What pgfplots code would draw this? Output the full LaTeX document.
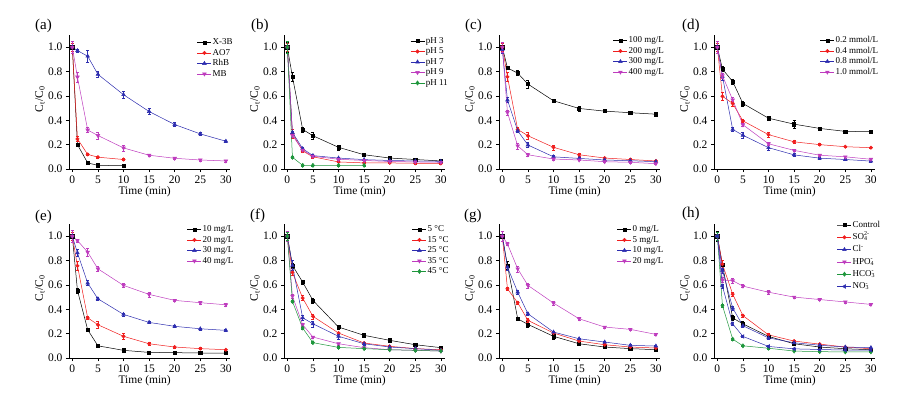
\documentclass[border=0pt]{standalone}
\usepackage{fontspec}
\setmainfont{Liberation Serif}
\usepackage{pgfplots}
\pgfplotsset{compat=1.18}
\definecolor{cRed}{RGB}{240,30,30}
\definecolor{cBlue}{RGB}{45,45,175}
\definecolor{cMag}{RGB}{190,60,190}
\definecolor{cGreen}{RGB}{30,150,60}
\newcommand\ion[2]{\rlap{\textsubscript{#1}}\textsuperscript{#2}}
\pgfplotsset{
 panel/.style={
  scale only axis, width=161pt, height=134pt,
  xmin=-0.65, xmax=30.8, ymin=0, ymax=1.1,
  xtick={0,5,...,30}, ytick={0,0.2,0.4,0.6,0.8,1.0},
  axis x line*=bottom, axis y line*=left,
  axis line style={-, line width=0.6pt},
  tick align=outside, major tick length=3pt,
  tick style={line width=0.6pt, black},
  /pgf/number format/assume math mode=true,
  ticklabel style={font=\fontsize{11.5}{12}\selectfont},
  yticklabel style={/pgf/number format/.cd, fixed, fixed zerofill, precision=1},
  xlabel={Time (min)}, ylabel={C\textsubscript{t}/C\textsubscript{0}},
  label style={font=\fontsize{11.5}{12}\selectfont},
  xlabel style={at={(axis description cs:0.47,-0.168)}, anchor=center},
  ylabel style={at={(axis description cs:-0.18,0.52)}, anchor=center},
  clip=false,
  legend cell align=left,
  legend style={draw=none, fill=none, font=\fontsize{9}{10}\selectfont,
    inner sep=0pt, row sep=0pt,
    nodes={inner sep=1pt, text height=6.5pt, text depth=2pt},
    anchor=north west},
  legend image code/.code={\draw[mark repeat=2,mark phase=2] plot coordinates {(0pt,0pt) (7pt,0pt) (14pt,0pt)};},
  every axis plot/.append style={line width=0.5pt,
    error bars/y dir=both, error bars/y explicit,
    error bars/error bar style={line width=0.45pt},
    error bars/error mark options={rotate=90, mark size=1.5pt, line width=0.45pt}},
 },
 sA/.style={black, mark=square*, mark size=1.6pt},
 sB/.style={cRed, mark=*, mark size=1.7pt},
 sC/.style={cBlue, mark=triangle*, mark size=2.1pt},
 sD/.style={cMag, mark=triangle*, mark size=2.1pt, mark options={rotate=180}},
 sE/.style={cGreen, mark=diamond*, mark size=2.1pt},
 sF/.style={cBlue, mark=triangle*, mark size=2.1pt, mark options={rotate=90}},
}
\begin{document}
\begin{tikzpicture}
\useasboundingbox (0,0) rectangle (920pt,392pt);
% ---------------- (a)
\begin{axis}[panel, at={(69pt,223pt)}, anchor=south west,
  legend style={at={(axis description cs:0.795,0.985)}}]
\addplot[sA] coordinates {(0,1.0)+-(0,0.03) (1,0.20)+-(0,0.015) (3,0.05)+-(0,0.008) (5,0.03)+-(0,0.005) (10,0.027)+-(0,0.005)};
\addplot[sB] coordinates {(0,1.0)+-(0,0.03) (1,0.247)+-(0,0.02) (3,0.12)+-(0,0.01) (5,0.097)+-(0,0.008) (10,0.078)+-(0,0.008)};
\addplot[sC] coordinates {(0,1.0)+-(0,0.02) (1,0.972)+-(0,0.015) (3,0.926)+-(0,0.05) (5,0.777)+-(0,0.025) (10,0.61)+-(0,0.03) (15,0.472)+-(0,0.025) (20,0.365)+-(0,0.015) (25,0.288)+-(0,0.01) (30,0.228)+-(0,0.008)};
\addplot[sD] coordinates {(0,1.0)+-(0,0.05) (1,0.755)+-(0,0.04) (3,0.32)+-(0,0.02) (5,0.275)+-(0,0.03) (10,0.173)+-(0,0.025) (15,0.113)+-(0,0.01) (20,0.088)+-(0,0.01) (25,0.074)+-(0,0.01) (30,0.066)+-(0,0.008)};
\legend{X-3B, AO7, RhB, MB}
\end{axis}
% ---------------- (b)
\begin{axis}[panel, at={(284pt,223pt)}, anchor=south west,
  legend style={at={(axis description cs:0.783,0.996)}}]
\addplot[sA] coordinates {(0,1.0)+-(0,0.04) (1,0.757)+-(0,0.035) (3,0.325)+-(0,0.02) (5,0.273)+-(0,0.03) (10,0.178)+-(0,0.02) (15,0.117)+-(0,0.01) (20,0.09)+-(0,0.01) (25,0.078)+-(0,0.008) (30,0.066)+-(0,0.008)};
\addplot[sB] coordinates {(0,1.0)+-(0,0.03) (1,0.29)+-(0,0.04) (3,0.148)+-(0,0.01) (5,0.10)+-(0,0.01) (10,0.058)+-(0,0.005) (15,0.05)+-(0,0.005) (20,0.05)+-(0,0.005) (25,0.047)+-(0,0.005) (30,0.045)+-(0,0.005)};
\addplot[sC] coordinates {(0,1.0)+-(0,0.02) (1,0.30)+-(0,0.01) (3,0.167)+-(0,0.01) (5,0.11)+-(0,0.01) (10,0.09)+-(0,0.008) (15,0.077)+-(0,0.006) (20,0.07)+-(0,0.006) (25,0.066)+-(0,0.005) (30,0.063)+-(0,0.005)};
\addplot[sD] coordinates {(0,1.0)+-(0,0.02) (1,0.275)+-(0,0.015) (3,0.155)+-(0,0.01) (5,0.105)+-(0,0.01) (10,0.08)+-(0,0.006) (15,0.07)+-(0,0.005) (20,0.062)+-(0,0.005) (25,0.058)+-(0,0.005) (30,0.055)+-(0,0.005)};
\addplot[sE] coordinates {(0,1.0)+-(0,0.05) (1,0.096)+-(0,0.01) (3,0.03)+-(0,0.008) (5,0.03)+-(0,0.005) (10,0.03)+-(0,0.005) (15,0.03)+-(0,0.005)};
\legend{pH 3, pH 5, pH 7, pH 9, pH 11}
\end{axis}
% ---------------- (c)
\begin{axis}[panel, at={(499pt,223pt)}, anchor=south west,
  legend style={at={(axis description cs:0.708,0.999)}}]
\addplot[sA] coordinates {(0,1.0)+-(0,0.02) (1,0.83)+-(0,0.015) (3,0.787)+-(0,0.02) (5,0.697)+-(0,0.03) (10,0.56)+-(0,0.015) (15,0.497)+-(0,0.02) (20,0.475)+-(0,0.012) (25,0.462)+-(0,0.01) (30,0.45)+-(0,0.008)};
\addplot[sB] coordinates {(0,1.0)+-(0,0.03) (1,0.757)+-(0,0.035) (3,0.325)+-(0,0.02) (5,0.273)+-(0,0.03) (10,0.178)+-(0,0.02) (15,0.117)+-(0,0.01) (20,0.09)+-(0,0.01) (25,0.078)+-(0,0.008) (30,0.066)+-(0,0.008)};
\addplot[sC] coordinates {(0,0.98)+-(0,0.03) (1,0.566)+-(0,0.02) (3,0.314)+-(0,0.015) (5,0.197)+-(0,0.02) (10,0.10)+-(0,0.01) (15,0.087)+-(0,0.008) (20,0.074)+-(0,0.006) (25,0.068)+-(0,0.006) (30,0.06)+-(0,0.005)};
\addplot[sD] coordinates {(0,1.0)+-(0,0.04) (1,0.464)+-(0,0.02) (3,0.19)+-(0,0.025) (5,0.117)+-(0,0.01) (10,0.082)+-(0,0.008) (15,0.074)+-(0,0.006) (20,0.06)+-(0,0.006) (25,0.055)+-(0,0.005) (30,0.044)+-(0,0.005)};
\legend{100 mg/L, 200 mg/L, 300 mg/L, 400 mg/L}
\end{axis}
% ---------------- (d)
\begin{axis}[panel, at={(714pt,223pt)}, anchor=south west,
  legend style={at={(axis description cs:0.658,0.999)}}]
\addplot[sA] coordinates {(0,1.0)+-(0,0.03) (1,0.82)+-(0,0.02) (3,0.718)+-(0,0.02) (5,0.538)+-(0,0.02) (10,0.417)+-(0,0.015) (15,0.368)+-(0,0.035) (20,0.333)+-(0,0.012) (25,0.309)+-(0,0.012) (30,0.306)+-(0,0.012)};
\addplot[sB] coordinates {(0,1.0)+-(0,0.03) (1,0.597)+-(0,0.03) (3,0.538)+-(0,0.02) (5,0.395)+-(0,0.015) (10,0.282)+-(0,0.02) (15,0.223)+-(0,0.012) (20,0.20)+-(0,0.008) (25,0.183)+-(0,0.006) (30,0.175)+-(0,0.006)};
\addplot[sC] coordinates {(0,1.0)+-(0,0.02) (1,0.76)+-(0,0.03) (3,0.325)+-(0,0.015) (5,0.277)+-(0,0.025) (10,0.175)+-(0,0.02) (15,0.116)+-(0,0.01) (20,0.089)+-(0,0.008) (25,0.078)+-(0,0.008) (30,0.065)+-(0,0.006)};
\addplot[sD] coordinates {(0,1.0)+-(0,0.05) (1,0.766)+-(0,0.02) (3,0.567)+-(0,0.025) (5,0.363)+-(0,0.015) (10,0.207)+-(0,0.015) (15,0.153)+-(0,0.01) (20,0.113)+-(0,0.008) (25,0.10)+-(0,0.008) (30,0.08)+-(0,0.006)};
\legend{0.2 mmol/L, 0.4 mmol/L, 0.8 mmol/L, 1.0 mmol/L}
\end{axis}
% ---------------- (e)
\begin{axis}[panel, at={(69pt,34pt)}, anchor=south west,
  legend style={at={(axis description cs:0.733,1.0)}}]
\addplot[sA] coordinates {(0,1.0)+-(0,0.03) (1,0.555)+-(0,0.02) (3,0.232)+-(0,0.012) (5,0.10)+-(0,0.01) (10,0.063)+-(0,0.012) (15,0.046)+-(0,0.006) (20,0.044)+-(0,0.005) (25,0.041)+-(0,0.005) (30,0.041)+-(0,0.005)};
\addplot[sB] coordinates {(0,1.0)+-(0,0.03) (1,0.757)+-(0,0.035) (3,0.33)+-(0,0.015) (5,0.273)+-(0,0.03) (10,0.178)+-(0,0.025) (15,0.117)+-(0,0.01) (20,0.09)+-(0,0.008) (25,0.077)+-(0,0.008) (30,0.068)+-(0,0.006)};
\addplot[sC] coordinates {(0,1.0)+-(0,0.02) (1,0.863)+-(0,0.03) (3,0.615)+-(0,0.02) (5,0.486)+-(0,0.015) (10,0.358)+-(0,0.012) (15,0.292)+-(0,0.01) (20,0.26)+-(0,0.008) (25,0.24)+-(0,0.008) (30,0.227)+-(0,0.008)};
\addplot[sD] coordinates {(0,1.0)+-(0,0.05) (1,0.964)+-(0,0.015) (3,0.869)+-(0,0.03) (5,0.732)+-(0,0.02) (10,0.596)+-(0,0.015) (15,0.522)+-(0,0.02) (20,0.473)+-(0,0.01) (25,0.454)+-(0,0.01) (30,0.437)+-(0,0.01)};
\legend{10 mg/L, 20 mg/L, 30 mg/L, 40 mg/L}
\end{axis}
% ---------------- (f)
\begin{axis}[panel, at={(284pt,34pt)}, anchor=south west,
  legend style={at={(axis description cs:0.795,1.0)}}]
\addplot[sA] coordinates {(0,1.0)+-(0,0.02) (1,0.76)+-(0,0.02) (3,0.623)+-(0,0.015) (5,0.473)+-(0,0.02) (10,0.254)+-(0,0.015) (15,0.186)+-(0,0.012) (20,0.145)+-(0,0.008) (25,0.109)+-(0,0.008) (30,0.085)+-(0,0.008)};
\addplot[sB] coordinates {(0,1.0)+-(0,0.02) (1,0.702)+-(0,0.02) (3,0.492)+-(0,0.02) (5,0.342)+-(0,0.02) (10,0.205)+-(0,0.01) (15,0.123)+-(0,0.008) (20,0.096)+-(0,0.006) (25,0.077)+-(0,0.006) (30,0.068)+-(0,0.005)};
\addplot[sC] coordinates {(0,1.0)+-(0,0.03) (1,0.76)+-(0,0.04) (3,0.33)+-(0,0.02) (5,0.281)+-(0,0.025) (10,0.178)+-(0,0.02) (15,0.117)+-(0,0.01) (20,0.09)+-(0,0.008) (25,0.077)+-(0,0.008) (30,0.063)+-(0,0.006)};
\addplot[sD] coordinates {(0,1.0)+-(0,0.04) (1,0.508)+-(0,0.015) (3,0.273)+-(0,0.015) (5,0.172)+-(0,0.01) (10,0.117)+-(0,0.008) (15,0.085)+-(0,0.006) (20,0.068)+-(0,0.006) (25,0.063)+-(0,0.005) (30,0.057)+-(0,0.005)};
\addplot[sE] coordinates {(0,1.0)+-(0,0.03) (1,0.464)+-(0,0.01) (3,0.246)+-(0,0.01) (5,0.126)+-(0,0.008) (10,0.087)+-(0,0.006) (15,0.077)+-(0,0.005) (20,0.068)+-(0,0.005) (25,0.063)+-(0,0.005) (30,0.057)+-(0,0.005)};
\legend{5 °C, 15 °C, 25 °C, 35 °C, 45 °C}
\end{axis}
% ---------------- (g)
\begin{axis}[panel, at={(499pt,34pt)}, anchor=south west,
  legend style={at={(axis description cs:0.733,1.0)}}]
\addplot[sA] coordinates {(0,1.0)+-(0,0.02) (1,0.76)+-(0,0.035) (3,0.322)+-(0,0.015) (5,0.276)+-(0,0.025) (10,0.178)+-(0,0.02) (15,0.117)+-(0,0.01) (20,0.09)+-(0,0.008) (25,0.077)+-(0,0.008) (30,0.068)+-(0,0.006)};
\addplot[sB] coordinates {(0,1.0)+-(0,0.02) (1,0.568)+-(0,0.015) (3,0.454)+-(0,0.015) (5,0.309)+-(0,0.015) (10,0.205)+-(0,0.01) (15,0.139)+-(0,0.008) (20,0.109)+-(0,0.006) (25,0.09)+-(0,0.006) (30,0.082)+-(0,0.005)};
\addplot[sC] coordinates {(0,1.0)+-(0,0.02) (1,0.746)+-(0,0.025) (3,0.541)+-(0,0.015) (5,0.363)+-(0,0.01) (10,0.213)+-(0,0.008) (15,0.158)+-(0,0.008) (20,0.131)+-(0,0.006) (25,0.104)+-(0,0.006) (30,0.098)+-(0,0.005)};
\addplot[sD] coordinates {(0,1.0)+-(0,0.04) (1,0.937)+-(0,0.015) (3,0.732)+-(0,0.025) (5,0.596)+-(0,0.02) (10,0.451)+-(0,0.015) (15,0.322)+-(0,0.01) (20,0.254)+-(0,0.008) (25,0.235)+-(0,0.008) (30,0.194)+-(0,0.008)};
\legend{0 mg/L, 5 mg/L, 10 mg/L, 20 mg/L}
\end{axis}
% ---------------- (h)
\begin{axis}[panel, at={(714pt,34pt)}, anchor=south west,
  legend style={at={(axis description cs:0.764,1.04)}, nodes={text height=7.5pt, text depth=2.8pt}}]
\addplot[sA] coordinates {(0,1.0)+-(0,0.04) (1,0.764)+-(0,0.035) (3,0.329)+-(0,0.02) (5,0.28)+-(0,0.025) (10,0.177)+-(0,0.015) (15,0.117)+-(0,0.01) (20,0.09)+-(0,0.008) (25,0.076)+-(0,0.008) (30,0.068)+-(0,0.006)};
\addplot[sB] coordinates {(0,1.0)+-(0,0.03) (1,0.77)+-(0,0.03) (3,0.524)+-(0,0.02) (5,0.348)+-(0,0.012) (10,0.19)+-(0,0.01) (15,0.139)+-(0,0.008) (20,0.114)+-(0,0.006) (25,0.09)+-(0,0.006) (30,0.076)+-(0,0.005)};
\addplot[sC] coordinates {(0,1.0)+-(0,0.02) (1,0.72)+-(0,0.02) (3,0.41)+-(0,0.015) (5,0.265)+-(0,0.015) (10,0.165)+-(0,0.01) (15,0.125)+-(0,0.008) (20,0.105)+-(0,0.006) (25,0.09)+-(0,0.006) (30,0.085)+-(0,0.005)};
\addplot[sD] coordinates {(0,1.0)+-(0,0.03) (1,0.64)+-(0,0.02) (3,0.635)+-(0,0.02) (5,0.59)+-(0,0.012) (10,0.54)+-(0,0.02) (15,0.50)+-(0,0.01) (20,0.48)+-(0,0.008) (25,0.46)+-(0,0.008) (30,0.44)+-(0,0.01)};
\addplot[sE] coordinates {(0,1.0)+-(0,0.03) (1,0.43)+-(0,0.015) (3,0.155)+-(0,0.008) (5,0.10)+-(0,0.006) (10,0.08)+-(0,0.005) (15,0.057)+-(0,0.005) (20,0.052)+-(0,0.004) (25,0.05)+-(0,0.004) (30,0.05)+-(0,0.004)};
\addplot[sF] coordinates {(0,1.0)+-(0,0.02) (1,0.59)+-(0,0.015) (3,0.28)+-(0,0.01) (5,0.177)+-(0,0.008) (10,0.095)+-(0,0.006) (15,0.075)+-(0,0.005) (20,0.07)+-(0,0.005) (25,0.065)+-(0,0.005) (30,0.065)+-(0,0.005)};
\legend{Control, SO\ion{4}{2-}, Cl\textsuperscript{-}, HPO\ion{4}{-}, HCO\ion{3}{-}, NO\ion{3}{-}}
\end{axis}
% ---------------- panel letters
\begin{scope}[every node/.style={anchor=west, inner sep=0pt, font=\fontsize{15}{16}\selectfont}]
\node at (35pt,366pt) {(a)};
\node at (251pt,366pt) {(b)};
\node at (465pt,366pt) {(c)};
\node at (682pt,366pt) {(d)};
\node at (35pt,175pt) {(e)};
\node at (250pt,176pt) {(f)};
\node at (464pt,176pt) {(g)};
\node at (682pt,178pt) {(h)};
\end{scope}
\end{tikzpicture}
\end{document}
